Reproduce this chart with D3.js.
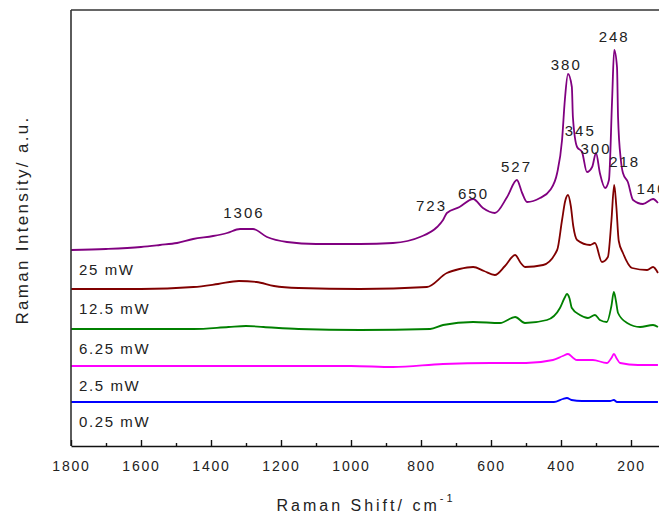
<!DOCTYPE html>
<html>
<head>
<meta charset="utf-8">
<script src="https://cdn.jsdelivr.net/npm/d3@7.9.0/dist/d3.min.js"></script>
<style>
  html, body { margin: 0; padding: 0; background: #fff; }
  text { font-family: "Liberation Sans", Arial, sans-serif; fill: #222; }
</style>
</head>
<body>
<div id="chart"></div>
<script>
// Raman spectra at different laser powers (shift in cm-1, intensity in a.u., offset stacked)
const labels = ["25 mW", "12.5 mW", "6.25 mW", "2.5 mW", "0.25 mW"];
const colors = ["#800080", "#800000", "#008000", "#ff00ff", "#0000ff"];

const shift25 = [1800, 1700, 1600, 1546, 1497, 1451, 1394, 1354, 1317, 1280, 1240, 1183, 1100, 974, 880, 803, 754, 737, 726, 690, 651, 623, 589, 554, 526, 511, 497, 460, 431, 411, 397, 389, 380, 369, 366, 354, 340, 326, 311, 300, 289, 274, 263, 254, 248, 240, 237, 229, 223, 209, 194, 166, 137, 123];
const int25 = [196, 197, 199, 201, 203, 207, 210, 213, 217, 217, 209, 204, 202, 202, 203, 209, 219, 226, 233, 239, 247, 238, 233, 249, 266, 253, 244, 248, 256, 273, 306, 346, 372, 359, 329, 299, 294, 274, 279, 293, 273, 258, 266, 346, 396, 379, 329, 286, 273, 264, 246, 242, 247, 243];

const shift12 = [1800, 1600, 1450, 1380, 1320, 1270, 1220, 1150, 974, 783, 726, 690, 651, 620, 589, 560, 531, 515, 503, 451, 411, 397, 388, 380, 372, 365, 354, 317, 303, 283, 266, 256, 248, 242, 235, 223, 197, 154, 137, 123];
const int12 = [157, 157, 159, 162, 165, 164, 160, 158, 157, 159, 173, 177, 179, 175, 171, 180, 191, 183, 179, 181, 196, 226, 245, 251, 240, 220, 206, 201, 203, 184, 189, 225, 261, 240, 205, 193, 178, 176, 179, 173];

const shift6 = [1800, 1450, 1350, 1300, 1250, 1150, 974, 774, 737, 651, 574, 531, 503, 440, 403, 390, 383, 376, 369, 346, 323, 303, 289, 269, 256, 249, 243, 237, 211, 174, 137, 123];
const int6 = [117, 117, 119, 120, 119, 117, 116, 117, 121, 124, 123, 129, 123, 126, 138, 148, 152, 148, 138, 131, 128, 131, 126, 124, 140, 154, 145, 133, 123, 119, 121, 119];

const shift2 = [1800, 1000, 880, 737, 600, 500, 423, 395, 380, 365, 354, 309, 269, 256, 249, 240, 231, 180, 123];
const int2 = [80, 80, 79, 82, 83, 83, 86, 90, 92, 88, 86, 86, 83, 88, 92, 87, 83, 81, 81];

const shift025 = [1800, 420, 395, 383, 370, 340, 260, 249, 240, 123];
const int025 = [44, 44, 47, 48, 46, 45, 45, 46, 44, 44];

const peakShifts = [1306, 723, 650, 527, 380, 345, 300, 248, 218, 140];
const peakLabelX = [1306, 770, 650, 527, 385, 345, 300, 248, 218, 140];
const peakHeights = [228, 235, 247, 274, 376, 310, 292, 404, 279, 252];

const xTicks = [1800, 1600, 1400, 1200, 1000, 800, 600, 400, 200];
const xMinor = [1700, 1500, 1300, 1100, 900, 700, 500, 300];

const width = 659;
const height = 521;
const margin = { top: 10, right: 0, bottom: 75, left: 71 };

const svg = d3.select('#chart')
  .append('svg')
  .attr('width', width)
  .attr('height', height);

const x = d3.scaleLinear()
  .domain([1800, 120])
  .range([margin.left, width - margin.right]);

const y = d3.scaleLinear()
  .domain([0, 436])
  .range([height - margin.bottom, margin.top]);

const series = [
  shift25.map((s, i) => [s, int25[i]]),
  shift12.map((s, i) => [s, int12[i]]),
  shift6.map((s, i) => [s, int6[i]]),
  shift2.map((s, i) => [s, int2[i]]),
  shift025.map((s, i) => [s, int025[i]])
];

const line = d3.line()
  .curve(d3.curveMonotoneX)
  .x(d => x(d[0]))
  .y(d => y(d[1]));

svg.selectAll('path.spec')
  .data(series)
  .join('path')
  .attr('class', 'spec')
  .attr('fill', 'none')
  .attr('stroke', (d, i) => colors[i])
  .attr('stroke-width', 1.8)
  .attr('stroke-linejoin', 'round')
  .attr('d', line);

// series labels sit just under each spectrum baseline
svg.selectAll('text.series')
  .data(series)
  .join('text')
  .attr('class', 'series')
  .attr('x', 79)
  .attr('y', d => y(d[0][1]) + 25)
  .attr('font-size', 15)
  .attr('letter-spacing', 1.6)
  .text((d, i) => labels[i]);

// peak labels (723 is set a little left of its peak, as in the original)
svg.selectAll('text.peak')
  .data(peakShifts)
  .join('text')
  .attr('class', 'peak')
  .attr('x', (d, i) => x(peakLabelX[i]))
  .attr('y', (d, i) => y(peakHeights[i]))
  .attr('text-anchor', 'middle')
  .attr('font-size', 15)
  .attr('letter-spacing', 2)
  .text(d => d);

// frame: left and top
svg.append('line')
  .attr('x1', margin.left).attr('x2', margin.left)
  .attr('y1', margin.top).attr('y2', height - margin.bottom)
  .attr('stroke', '#333').attr('stroke-width', 1.6);
svg.append('line')
  .attr('x1', margin.left).attr('x2', width)
  .attr('y1', margin.top).attr('y2', margin.top)
  .attr('stroke', '#333').attr('stroke-width', 1.6);

// bottom axis with inward ticks
const xAxis = svg.append('g')
  .attr('transform', `translate(0,${height - margin.bottom})`)
  .call(d3.axisBottom(x).tickValues(xTicks).tickFormat(d3.format('d'))
    .tickSize(-6).tickSizeOuter(0).tickPadding(15));
xAxis.select('.domain').attr('stroke', '#111').attr('stroke-width', 1.6);
xAxis.selectAll('.tick line').attr('stroke', '#111').attr('stroke-width', 1.4);
xAxis.selectAll('.tick text')
  .attr('font-size', 14)
  .attr('letter-spacing', 1.8)
  .attr('font-family', '"Liberation Sans", Arial, sans-serif')
  .attr('fill', '#222');

svg.append('g')
  .attr('transform', `translate(0,${height - margin.bottom})`)
  .call(d3.axisBottom(x).tickValues(xMinor).tickSize(-3).tickFormat(''))
  .call(g => g.select('.domain').remove())
  .selectAll('.tick line').attr('stroke', '#111').attr('stroke-width', 1.4);

// axis titles
const xt = svg.append('text')
  .attr('x', 366)
  .attr('y', 511)
  .attr('text-anchor', 'middle')
  .attr('font-size', 16)
  .attr('letter-spacing', 3);
xt.append('tspan').text('Raman Shift/ cm');
xt.append('tspan').attr('dy', -9).attr('font-size', 11).text('-1');

svg.append('text')
  .attr('transform', 'rotate(-90)')
  .attr('x', -220)
  .attr('y', 28)
  .attr('text-anchor', 'middle')
  .attr('font-size', 17)
  .attr('letter-spacing', 2.3)
  .text('Raman Intensity/ a.u.');
</script>
</body>
</html>
